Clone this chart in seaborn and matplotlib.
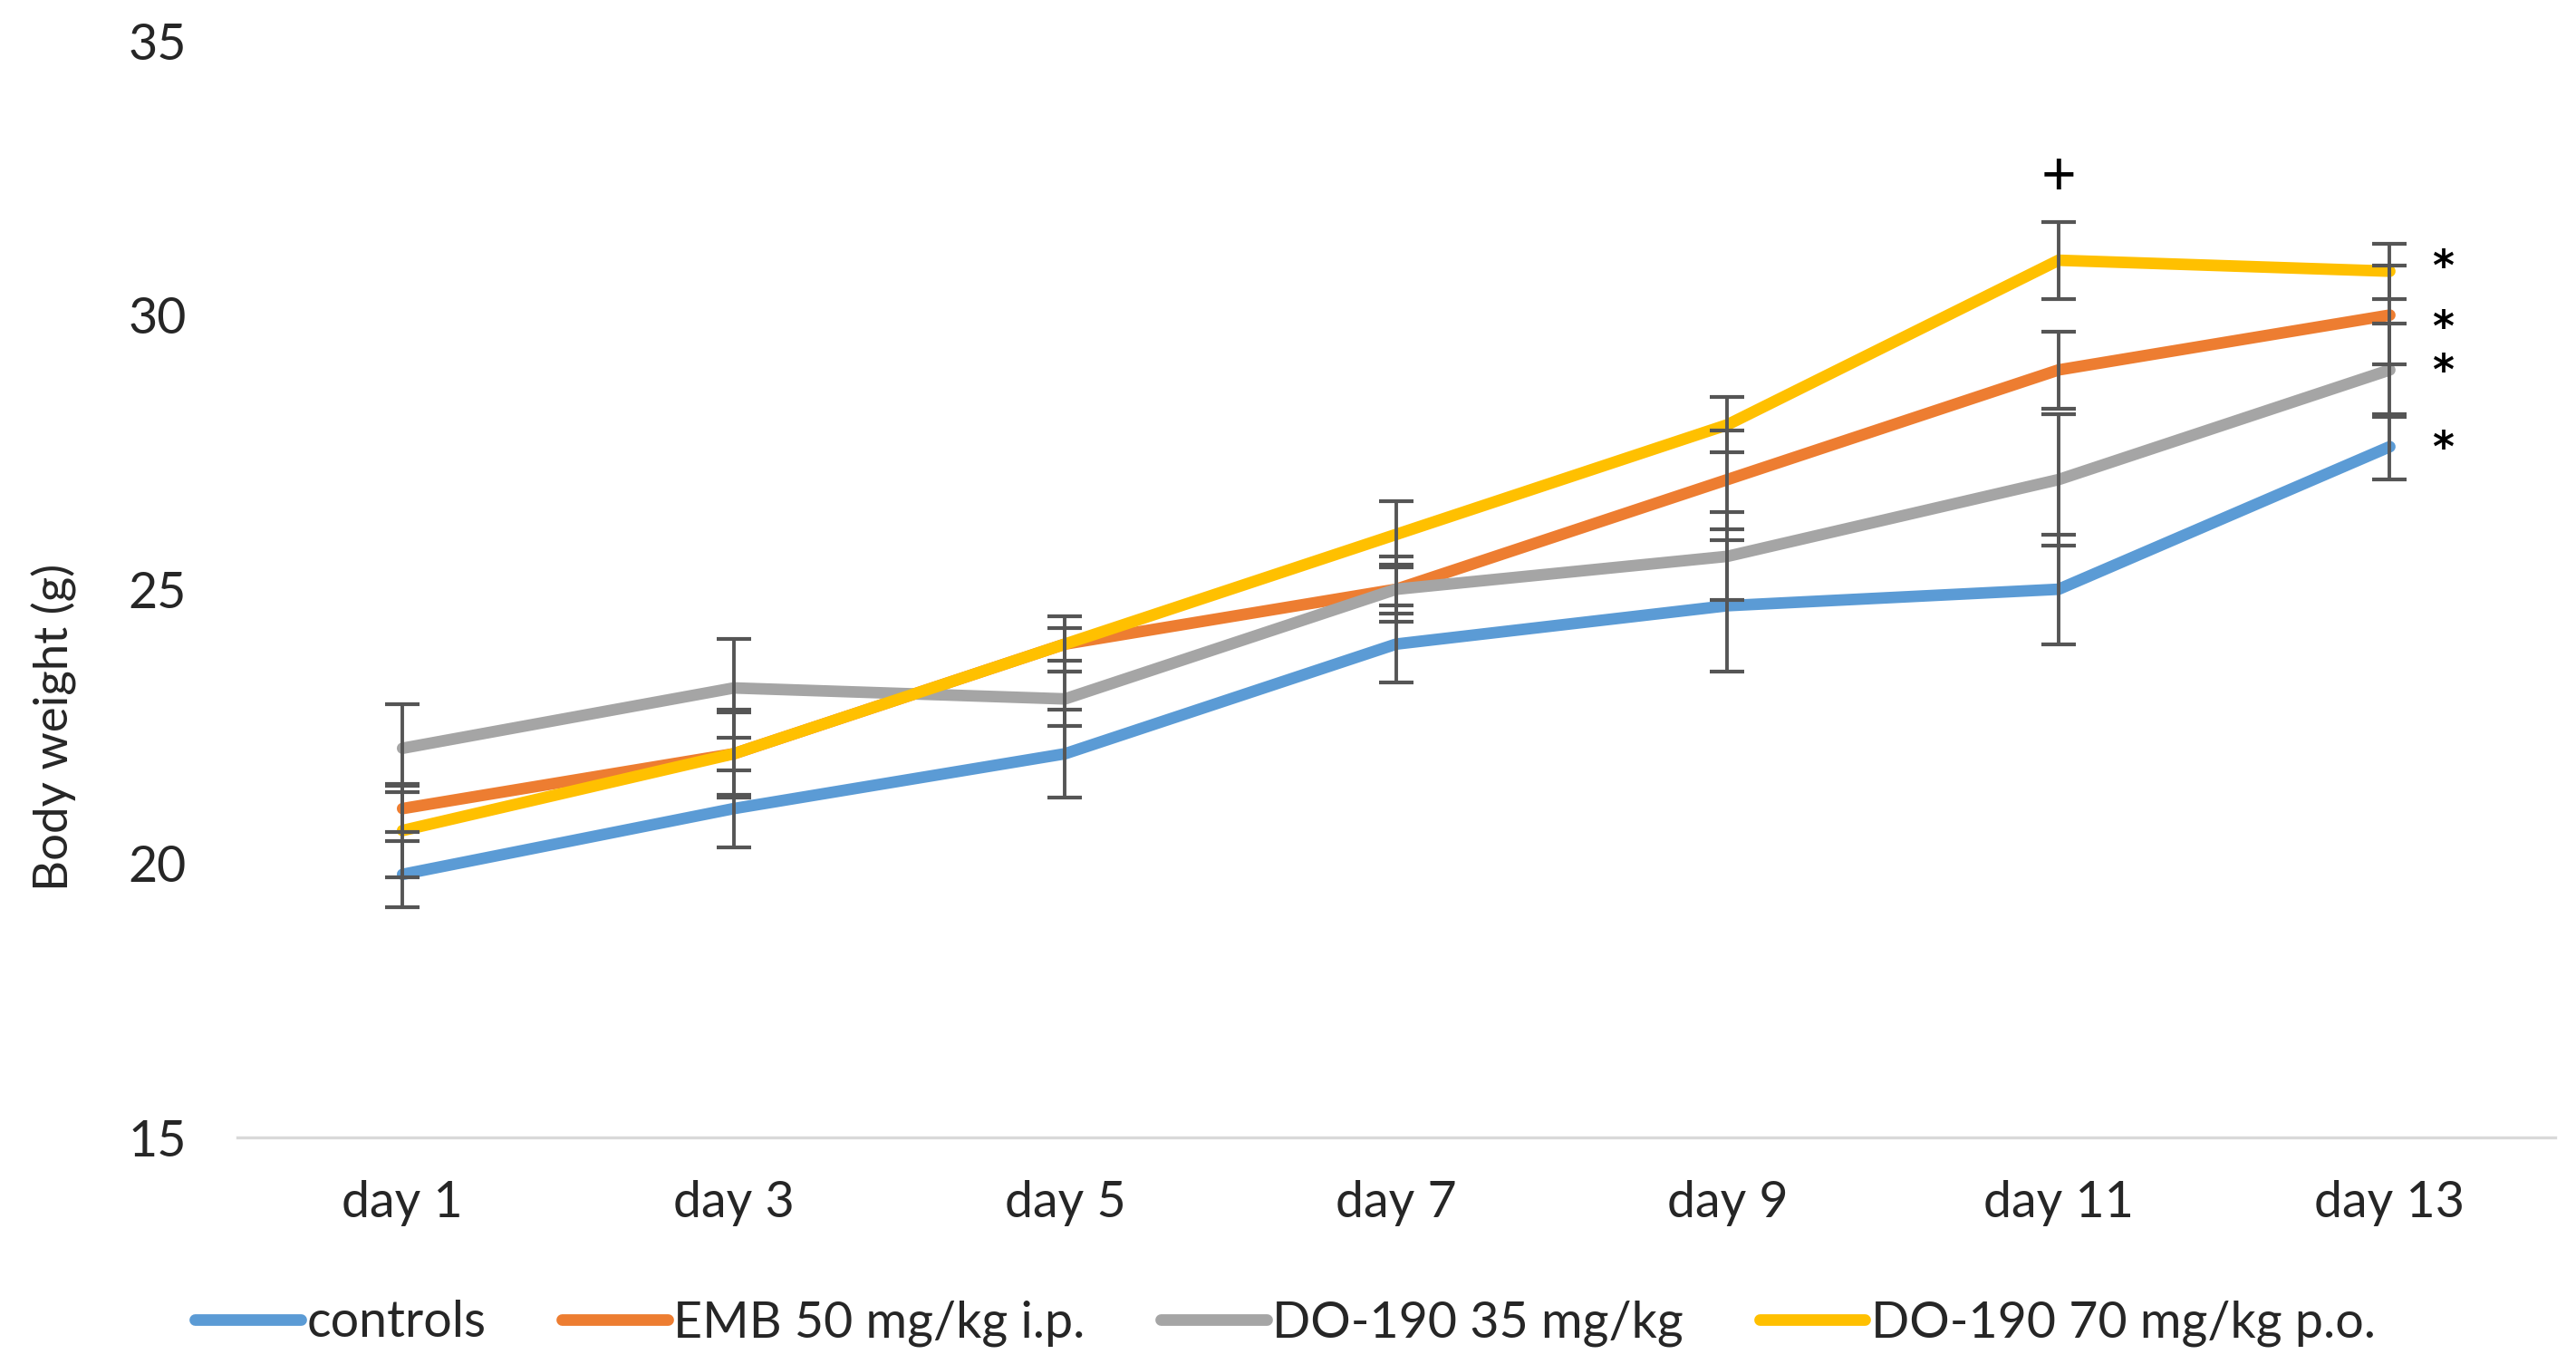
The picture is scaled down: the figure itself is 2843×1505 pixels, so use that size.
import matplotlib
matplotlib.use('Agg')
import pandas as pd
import matplotlib.pyplot as plt
import seaborn as sns
import numpy as np

# ---------------------------- data ----------------------------
days = ['day 1', 'day 3', 'day 5', 'day 7', 'day 9', 'day 11', 'day 13']
groups = ['controls', 'EMB 50 mg/kg i.p.', 'DO-190 35 mg/kg', 'DO-190 70 mg/kg p.o.']

controls = [19.8, 21.0, 22.0, 24.0, 24.7, 25.0, 27.6]
emb_50 = [21.0, 22.0, 24.0, 25.0, 27.0, 29.0, 30.0]
do190_35 = [22.1, 23.2, 23.0, 25.0, 25.6, 27.0, 29.0]
do190_70 = [20.6, 22.0, 24.0, 26.0, 28.0, 31.0, 30.8]

controls_err = [0.6, 0.7, 0.8, 0.7, 1.2, 1.0, 0.6]
emb_50_err = [0.42, 0.8, 0.5, 0.6, 0.9, 0.7, 0.9]
do190_35_err = [0.8, 0.9, 0.5, 0.45, 0.8, 1.2, 0.85]
do190_70_err = [0.85, 0.75, 0.3, 0.6, 0.5, 0.7, 0.5]

# significance marks
plus_day = 'day 11'
plus_y = 32.5
star_day = 'day 13'
star_y = [31.0, 29.9, 29.1, 27.7]

colors = ['#5B9BD5', '#ED7D31', '#A5A5A5', '#FFC000']

if __name__ == "__main__":
    means = [controls, emb_50, do190_35, do190_70]
    errs = [controls_err, emb_50_err, do190_35_err, do190_70_err]

    df = pd.DataFrame({
        'day': days * len(groups),
        'weight': np.concatenate(means),
        'group': np.repeat(groups, len(days)),
    })

    sns.set_style('white')
    plt.rcParams['font.family'] = ['Lato', 'DejaVu Sans']

    fig = plt.figure(figsize=(14.215, 7.525), dpi=200)
    ax = fig.add_axes([0.092, 0.166, 0.900, 0.804])

    sns.lineplot(data=df, x='day', y='weight', hue='group', hue_order=groups,
                 palette=colors, linewidth=4.6, sort=False, ax=ax, zorder=2)

    for m, e in zip(means, errs):
        ax.errorbar(days, m, yerr=e, fmt='none', ecolor='#555555',
                    elinewidth=1.4, capsize=7, capthick=1.5, zorder=3)

    ax.set_ylim(15, 35)
    ax.set_yticks([15, 20, 25, 30, 35])
    ax.set_xlim(-0.5, len(days) - 0.5)
    ax.set_xlabel('')
    ax.set_ylabel('')

    for s in ['top', 'right', 'left']:
        ax.spines[s].set_visible(False)
    ax.spines['bottom'].set_color('#D9D9D9')
    ax.spines['bottom'].set_linewidth(1.2)
    ax.tick_params(axis='both', length=0, labelsize=20, colors='#262626')
    ax.tick_params(axis='y', pad=20)
    ax.tick_params(axis='x', pad=17)

    fig.text(0.021, 0.467, 'Body weight (g)', rotation=90, ha='center', va='center',
             fontsize=19, color='#262626')

    # significance marks
    ax.text(days.index(plus_day), plus_y, '+', ha='center', va='center',
            fontsize=24, color='black')
    for yv in star_y:
        ax.annotate('*', xy=(days.index(star_day), yv), xytext=(21, -3.5),
                    textcoords='offset points', ha='center', va='center',
                    fontsize=16.5, family='DejaVu Sans', fontweight='bold',
                    color='black')

    sns.move_legend(ax, 'center', bbox_to_anchor=(0.499, 0.03),
                    bbox_transform=fig.transFigure, ncol=4, frameon=False,
                    title=None, fontsize=20, handlelength=2.1, handletextpad=0.12,
                    columnspacing=1.5)

    fig.savefig('out.png', dpi=200)
